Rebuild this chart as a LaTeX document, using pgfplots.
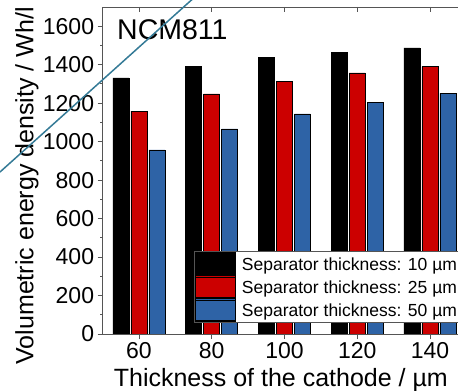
\documentclass[border=0pt]{standalone}
\usepackage{fontspec}
\setmainfont{Liberation Sans}
\usepackage{pgfplots}
\pgfplotsset{compat=1.18}
\definecolor{barred}{RGB}{204,0,0}
\definecolor{barblue}{RGB}{46,99,166}
\definecolor{axgray}{RGB}{85,85,85}
\definecolor{diag}{RGB}{52,122,150}
\begin{document}
\begin{tikzpicture}
\begin{axis}[
  at={(0pt,0pt)}, anchor=south west,
  scale only axis, width=363.75pt, height=327pt,
  xmin=50, xmax=150, ymin=0, ymax=1700,
  xtick={60,80,100,120,140}, ytick={0,200,...,1600},
  minor y tick num=1,
  xtick pos=bottom, ytick pos=left, tick align=outside,
  major tick length=5pt, minor tick length=2.5pt,
  axis line style={axgray, line width=0.9pt},
  every tick/.style={axgray, line width=0.9pt},
  tick label style={font=\fontsize{23}{27}\selectfont},
  /pgf/number format/assume math mode=true,
  /pgf/number format/1000 sep={},
  xlabel={Thickness of the cathode / µm},
  ylabel={Volumetric energy density / Wh/l},
  every axis x label/.style={at={(rel axis cs:0.49,-0.162)}, anchor=base, font=\fontsize{25}{30}\selectfont},
  every axis y label/.style={at={(rel axis cs:-0.19,0.453)}, rotate=90, anchor=base, font=\fontsize{25}{30}\selectfont},
  ybar=2pt, bar width=16pt,
  legend style={at={(rel axis cs:0.251,0.034)}, anchor=south west, draw=axgray, line width=0.9pt, fill=white,
    inner xsep=1pt, inner ysep=1pt, font=\fontsize{17.5}{21}\selectfont,
    nodes={inner ysep=0pt, inner xsep=2pt, text height=13pt, text depth=3pt},
    /tikz/every odd column/.style={column sep=4pt}},
  legend cell align=left,
  legend image code/.code={\path (0pt,-9.2pt) rectangle (40pt,13.2pt);\draw[#1, line width=0.6pt, draw=black] (0pt,-8pt) rectangle (40pt,12pt);},
]
\addplot[fill=black, draw=black, line width=0.6pt] coordinates {(60,1331) (80,1393) (100,1436) (120,1464) (140,1487)};
\addplot[fill=barred, draw=black, line width=0.6pt] coordinates {(60,1159) (80,1248) (100,1312) (120,1357) (140,1390)};
\addplot[fill=barblue, draw=black, line width=0.6pt] coordinates {(60,957) (80,1066) (100,1144) (120,1206) (140,1251)};
\legend{Separator thickness: 10 µm, Separator thickness: 25 µm, Separator thickness: 50 µm}
\node[anchor=base west, inner sep=0pt, font=\fontsize{28.5}{32}\selectfont] at (rel axis cs:0.0396,0.902) {NCM811};
\end{axis}
\begin{axis}[
  at={(0pt,0pt)}, anchor=south west,
  scale only axis, width=363.75pt, height=327pt,
  xmin=50, xmax=150, ymin=0, ymax=1700,
  xtick={60,80,100,120,140}, ytick=\empty, xticklabels={},
  xtick pos=top, tick align=inside, major tick length=5pt,
  axis line style={axgray, line width=0.9pt},
  every tick/.style={axgray, line width=0.9pt},
]
\end{axis}
\draw[diag, line width=1.5pt] (-102.6pt,162pt) -- (100pt,344pt);
\pgfresetboundingbox
\useasboundingbox (-102.6pt,-57pt) rectangle (355.4pt,334pt);
\end{tikzpicture}
\end{document}
